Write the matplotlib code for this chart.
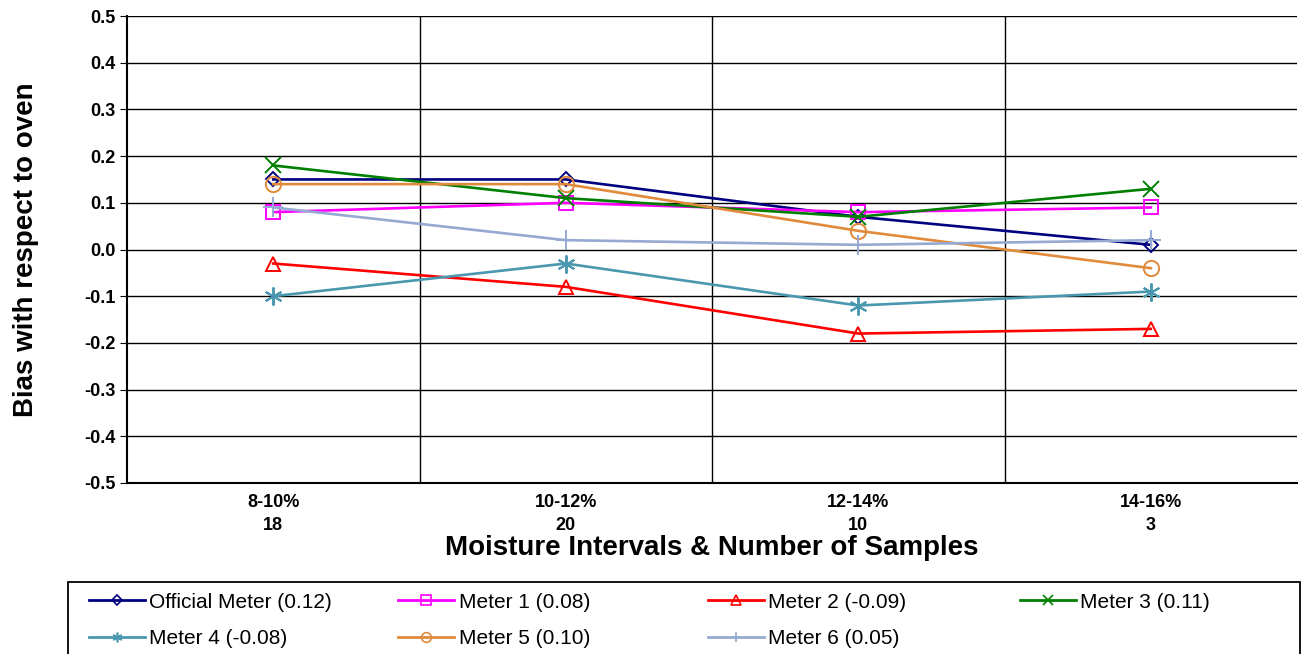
import matplotlib.pyplot as plt
from matplotlib.lines import Line2D
from matplotlib.patches import Rectangle

plt.rcParams['font.family'] = ['Liberation Sans', 'DejaVu Sans']

categories = ["8-10%\n18", "10-12%\n20", "12-14%\n10", "14-16%\n3"]
official = [0.15, 0.15, 0.07, 0.01]
meter1 = [0.08, 0.10, 0.08, 0.09]
meter2 = [-0.03, -0.08, -0.18, -0.17]
meter3 = [0.18, 0.11, 0.07, 0.13]
meter4 = [-0.10, -0.03, -0.12, -0.09]
meter5 = [0.14, 0.14, 0.04, -0.04]
meter6 = [0.09, 0.02, 0.01, 0.02]
labels = ["Official Meter (0.12)", "Meter 1 (0.08)", "Meter 2 (-0.09)", "Meter 3 (0.11)",
          "Meter 4 (-0.08)", "Meter 5 (0.10)", "Meter 6 (0.05)"]

series = [official, meter1, meter2, meter3, meter4, meter5, meter6]
colors = ["#000080", "#FF00FF", "#FF0000", "#008000", "#4A98B0", "#E08A3C", "#95A9D2"]
markers = ["D", "s", "^", "x", (6, 2, 0), "o", "+"]
msizes = [7, 10, 10, 11, 13, 11, 14]

fig = plt.figure(figsize=(13.01, 6.54), dpi=100)
ax = fig.add_axes([0.0976, 0.2615, 0.8994, 0.714])

x = range(len(categories))
handles = []
for vals, c, m, ms, lab in zip(series, colors, markers, msizes, labels):
    ax.plot(x, vals, color=c, lw=1.9, marker=m, ms=ms, mew=1.4,
            mfc="none", mec=c)
    handles.append(Line2D([], [], color=c, lw=2, marker=m, ms=7 if m != "D" else 5,
                          mew=1.2, mfc="none", mec=c))

ax.set_xlim(-0.5, 3.5)
ax.set_ylim(-0.5, 0.5)
ax.set_yticks([i / 10 for i in range(-5, 6)])
ax.set_yticklabels([f"{i / 10:.1f}" for i in range(-5, 6)], fontsize=13, fontweight="bold")
ax.set_xticks(list(x))
ax.set_xticklabels(categories, fontsize=13, fontweight="bold", linespacing=1.45)
ax.set_xticks([0.5, 1.5, 2.5], minor=True)
ax.tick_params(axis="x", which="major", length=0, pad=8)
ax.tick_params(axis="x", which="minor", length=0)
ax.tick_params(axis="y", length=5, direction="out")
ax.grid(axis="y", color="black", lw=1)
ax.grid(axis="x", which="minor", color="black", lw=1)
for s in ["top", "right"]:
    ax.spines[s].set_visible(False)
ax.spines["left"].set_linewidth(1.5)
ax.spines["bottom"].set_linewidth(1.5)

ax.set_ylabel("Bias with respect to oven", fontsize=20, fontweight="bold", labelpad=32)
ax.set_xlabel("Moisture Intervals & Number of Samples", fontsize=20, fontweight="bold", labelpad=1)

# legend frame and four equal-width columns
fig.add_artist(Rectangle((0.052, -0.02), 0.947, 0.13, transform=fig.transFigure,
                         fill=False, ec="black", lw=1.3))
columns = [[0, 4], [1, 5], [2, 6], [3]]
col_x = [0.0684, 0.306, 0.544, 0.784]
for idx, cx in zip(columns, col_x):
    fig.legend([handles[i] for i in idx], [labels[i] for i in idx],
               loc="upper left", bbox_to_anchor=(cx, 0.094), fontsize=15,
               frameon=False, handlelength=2.7, handletextpad=0.2,
               borderpad=0, borderaxespad=0, labelspacing=0.86)

plt.savefig("out.png", dpi=100)
